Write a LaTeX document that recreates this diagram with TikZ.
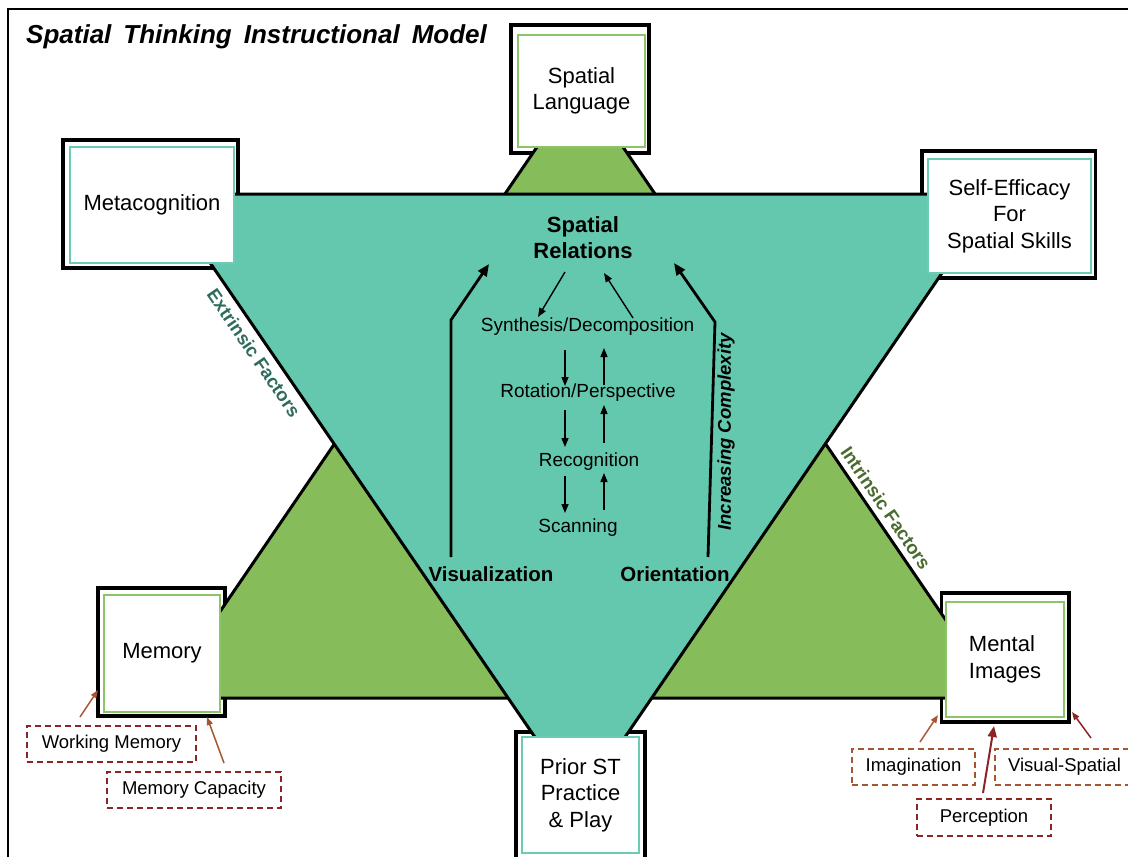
\documentclass[tikz,border=0pt]{standalone}
\usepackage{fontspec}
\setmainfont{Liberation Sans}
\usetikzlibrary{arrows.meta}
\definecolor{tealfill}{HTML}{64C8AF}
\definecolor{greenfill}{HTML}{86BC5A}
\definecolor{tealline}{HTML}{6CCBB2}
\definecolor{greenline}{HTML}{8CC46A}
\definecolor{extc}{HTML}{2F6B5C}
\definecolor{intc}{HTML}{4A6B30}
\definecolor{dred}{HTML}{8B2525}
\definecolor{brn}{HTML}{A5552F}
\newcommand{\fsz}[2]{\fontsize{#1}{#2}\selectfont}
\begin{document}
\begin{tikzpicture}[x=1pt,y=-1pt,
 frameO/.style={draw=black,line width=3.5pt,fill=white,inner sep=0pt,outer sep=0pt},
 innerT/.style={draw=tealline,line width=2.5pt,fill=white,inner sep=0pt,outer sep=0pt,align=center,font=\fsz{22}{26.5}},
 innerG/.style={innerT,draw=greenline},
 midtext/.style={font=\fsz{19}{23},inner sep=1pt},
 dbox/.style={draw=#1,line width=1.6pt,dash pattern=on 6pt off 4pt,fill=white,font=\fsz{18.5}{22},inner sep=0pt,minimum height=36pt},
 smallarr/.style={line width=1.4pt,-{Triangle[length=9pt,width=7pt]}},
 bigarr/.style={line width=2.8pt,-{Triangle[length=12pt,width=10pt]}},
 brarr/.style={draw=#1,line width=1.5pt,-{Triangle[length=8pt,width=6pt]}},
]
\useasboundingbox (0,0) rectangle (1128,857);
\begin{scope}
\clip (0,0) rectangle (1128,857);
\draw[line width=1.5pt] (8,9) rectangle (1140,870);

% title
\node[anchor=base west,inner sep=0pt,font=\fsz{26}{30}\bfseries\itshape] (title) at (26,43)
  {Spatial\hspace{12pt}Thinking\hspace{12pt}Instructional\hspace{12pt}Model};

% outer frames
\node[frameO,minimum width=138pt,minimum height=128pt] (slO) at (580,89) {};
\node[frameO,minimum width=175pt,minimum height=128pt] (mcO) at (150.5,204) {};
\node[frameO,minimum width=173.5pt,minimum height=127pt] (seO) at (1008.75,214.5) {};
\node[frameO,minimum width=127pt,minimum height=128pt] (meO) at (161.5,652) {};
\node[frameO,minimum width=129pt,minimum height=130pt] (psO) at (580.5,797) {};
\node[frameO,minimum width=127.5pt,minimum height=129pt] (miO) at (1005,657.5) {};

% hexagram
\draw[line width=3pt,fill=greenfill] (580,84) coordinate (gA) -- (161,698) coordinate (gB) -- (999,698) coordinate (gC) -- cycle;
\draw[line width=3pt,fill=tealfill] (163,194) coordinate (tA) -- (996,194) coordinate (tB) -- (580,803) coordinate (tC) -- cycle;

% inner boxes
\node[innerG,minimum width=127pt,minimum height=112pt] (sl) at (581.5,91) {Spatial\\Language};
\node[innerT,minimum width=164pt,minimum height=116pt] (mc) at (152,205) {Metacognition};
\node[innerT,minimum width=163pt,minimum height=114pt] (se) at (1009.5,216) {Self-Efficacy\\For\\Spatial Skills};
\node[innerG,minimum width=116pt,minimum height=117pt] (me) at (162,653.5) {Memory};
\node[innerT,minimum width=117pt,minimum height=116pt] (ps) at (580.5,795) {Prior ST\\Practice\\\& Play};
\node[innerG,minimum width=118pt,minimum height=115pt,align=left] (mi) at (1005,659.5) {Mental\\Images};

% side labels
\node[rotate=-55.6,font=\fsz{18.5}{22}\bfseries,text=extc,inner sep=0pt] (ext) at (254,353) {Extrinsic Factors};
\node[rotate=-55.6,font=\fsz{18.5}{22}\bfseries,text=intc,inner sep=0pt] (intr) at (886,508) {Intrinsic Factors};

% central texts
\node[font=\fsz{22}{26}\bfseries,align=center,inner sep=1pt] (sr) at (583,238) {Spatial\\Relations};
\node[midtext] (syn) at (587.5,327) {Synthesis/Decomposition};
\node[midtext] (rot) at (588,393) {Rotation/Perspective};
\node[midtext] (rec) at (589,462) {Recognition};
\node[midtext] (scan) at (578,528) {Scanning};
\node[font=\fsz{20.5}{24}\bfseries,inner sep=1pt] (vis) at (491,574) {Visualization};
\node[font=\fsz{20.5}{24}\bfseries,inner sep=1pt] (ori) at (675,574) {Orientation};
\node[rotate=90,font=\fsz{18.5}{22}\bfseries\itshape,inner sep=0pt] (ic) at (726,432) {Increasing Complexity};

% small arrows
\coordinate (a1s) at (565,272); \coordinate (a1e) at (538,317);
\coordinate (a2s) at (633,318); \coordinate (a2e) at (604,273);
\draw[smallarr] (a1s) -- (a1e);
\draw[smallarr] (a2s) -- (a2e);
\coordinate (d1s) at (565,350); \coordinate (d1e) at (565,386);
\coordinate (d2s) at (565,410); \coordinate (d2e) at (565,447);
\coordinate (d3s) at (565,476); \coordinate (d3e) at (565,513);
\coordinate (u1s) at (604,510); \coordinate (u1e) at (604,473);
\coordinate (u2s) at (604,443); \coordinate (u2e) at (604,405);
\coordinate (u3s) at (604,385); \coordinate (u3e) at (604,348);
\draw[smallarr] (d1s) -- (d1e);
\draw[smallarr] (d2s) -- (d2e);
\draw[smallarr] (d3s) -- (d3e);
\draw[smallarr] (u1s) -- (u1e);
\draw[smallarr] (u2s) -- (u2e);
\draw[smallarr] (u3s) -- (u3e);

% big arrows
\coordinate (bl1) at (451,557); \coordinate (bl2) at (451,320); \coordinate (bl3) at (489,264);
\coordinate (br1) at (708,557); \coordinate (br2) at (715,322); \coordinate (br3) at (674,263);
\draw[bigarr] (bl1) -- (bl2) -- (bl3);
\draw[bigarr] (br1) -- (br2) -- (br3);

% dashed boxes
\node[dbox=dred,minimum width=169pt] (wm) at (111.5,744) {Working Memory};
\node[dbox=dred,minimum width=174pt] (mcap) at (194,790) {Memory Capacity};
\node[dbox=brn,minimum width=123pt] (img) at (913.5,767) {Imagination};
\node[dbox=brn,minimum width=139pt] (vsp) at (1064.5,767) {Visual-Spatial};
\node[dbox=dred,minimum width=134pt,minimum height=37pt] (per) at (984,817.5) {Perception};

% brown arrows
\coordinate (wmA) at (80,717); \coordinate (wmB) at (98,690);
\coordinate (mcA) at (224,763); \coordinate (mcB) at (207,717);
\coordinate (imA) at (920,742); \coordinate (imB) at (938,715);
\coordinate (peA) at (983,793); \coordinate (peB) at (994,726);
\coordinate (vsA) at (1091,738); \coordinate (vsB) at (1072,712);
\draw[brarr=brn] (wmA) -- (wmB);
\draw[brarr=brn] (mcA) -- (mcB);
\draw[brarr=brn] (imA) -- (imB);
\draw[draw=dred,line width=2pt,-{Triangle[length=11pt,width=9pt]}] (peA) -- (peB);
\draw[brarr=dred] (vsA) -- (vsB);
\end{scope}
\end{tikzpicture}
\end{document}
